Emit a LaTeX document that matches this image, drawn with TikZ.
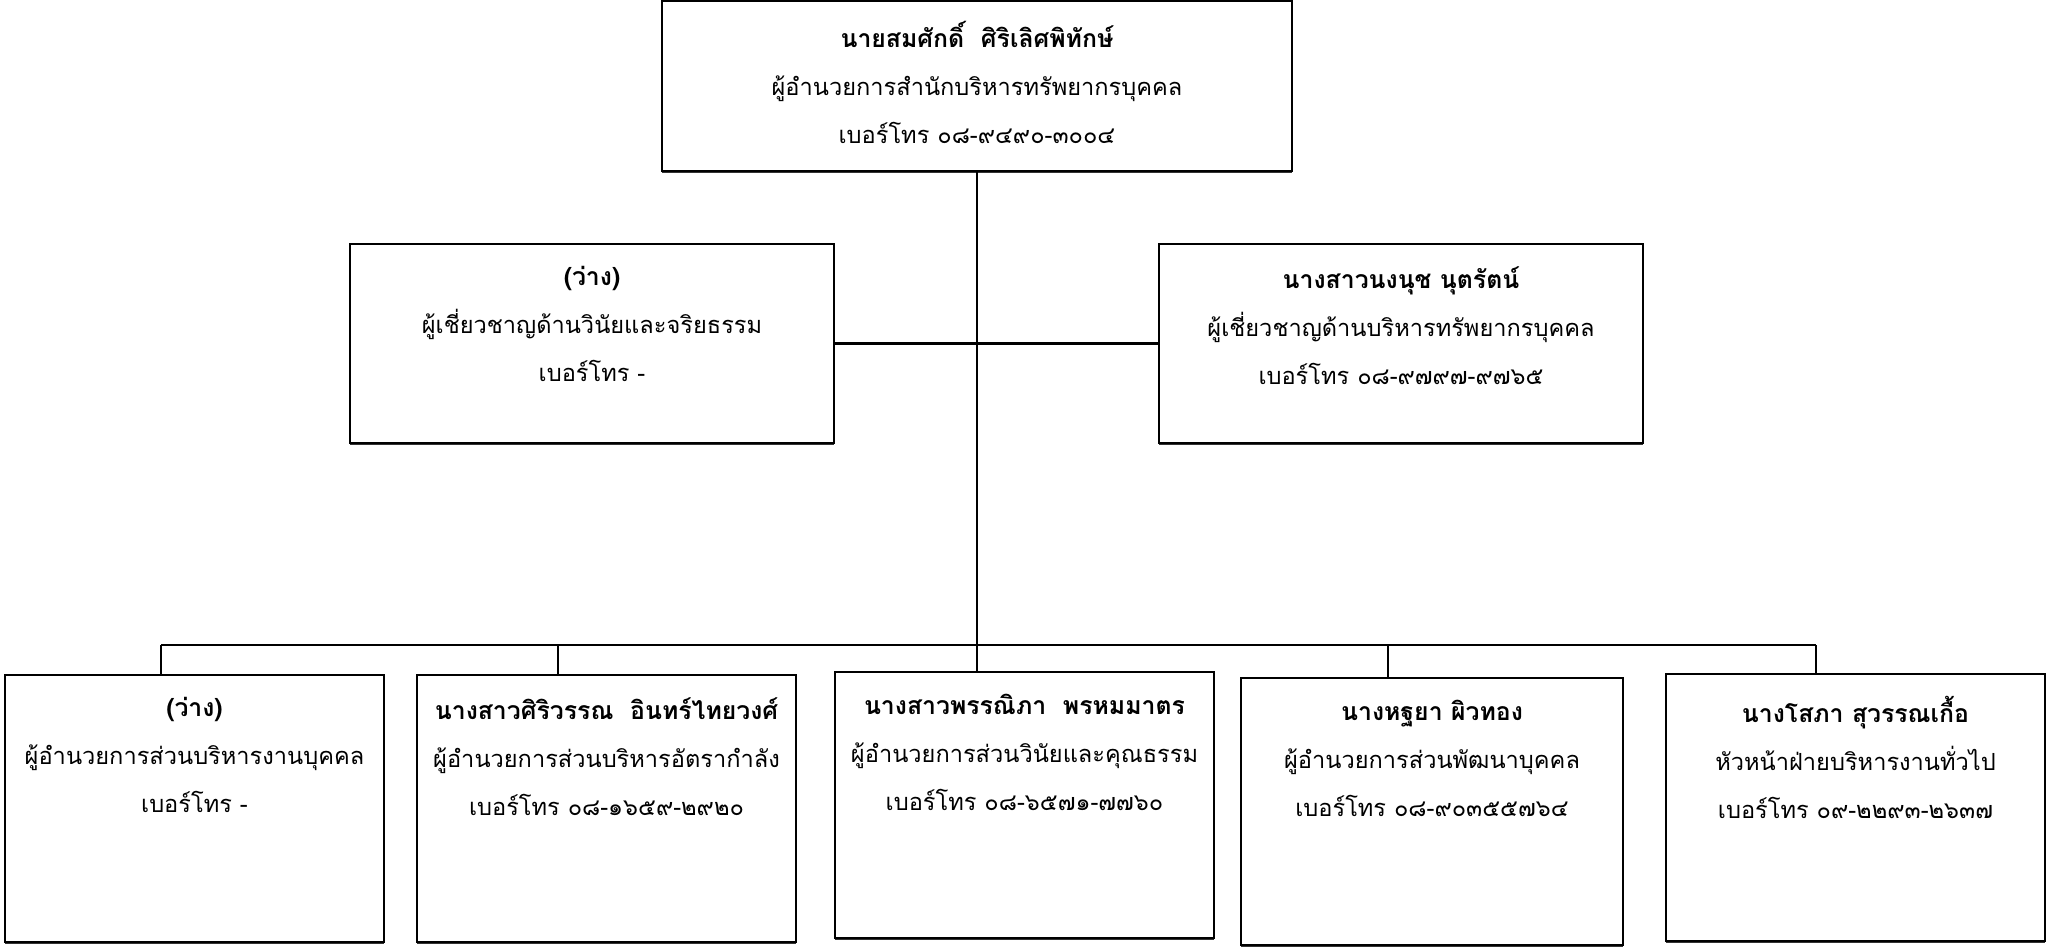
\documentclass[tikz,border=0pt]{standalone}
\usepackage{fontspec}
\newfontfamily\thai[Script=Thai]{Loma}
\newcommand\personname{\bfseries\fontsize{12.4}{24}\selectfont}
\usetikzlibrary{shadows}
\begin{document}
\begin{tikzpicture}[x=0.5pt,y=-0.5pt,
  box/.style={draw=black, line width=1.1pt, fill=white, rectangle, inner sep=0pt,
    drop shadow={shadow xshift=0pt, shadow yshift=-1pt, opacity=1, fill=black!80}},
  info/.style={anchor=north, align=center, inner sep=0pt,
    font=\thai\fontsize{11.8}{24}\selectfont},
  link/.style={line width=1.1pt, draw=black}]
\useasboundingbox (0,0) rectangle (2049,947);

% branch points on the bus line
\coordinate (busL) at (161,645);
\coordinate (busR) at (1816,645);
\coordinate (d2) at (558,645);
\coordinate (d4) at (1388,645);

% boxes
\node[box, minimum width=315pt, minimum height=85pt] (top) at (977,86) {};
\node[box, minimum width=242pt, minimum height=99.5pt] (lm) at (592,343.5) {};
\node[box, minimum width=242pt, minimum height=99.5pt] (rm) at (1401,343.5) {};
\node[box, minimum width=189.5pt, minimum height=133.5pt] (b1) at (194.5,808.5) {};
\node[box, minimum width=189.5pt, minimum height=133.5pt] (b2) at (606.5,808.5) {};
\node[box, minimum width=189.5pt, minimum height=133pt] (b3) at (1024.5,805) {};
\node[box, minimum width=191pt, minimum height=133.5pt] (b4) at (1432,811.5) {};
\node[box, minimum width=189.5pt, minimum height=133.5pt] (b5) at (1855.5,807.5) {};

% reporting lines
\draw[link] (top.south) -- (top.south |- b3.north);
\draw[link] (lm.east) -- (rm.west);
\draw[link] (busL) -- (busR);
\draw[link] (busL) -- (busL |- b1.north);
\draw[link] (d2) -- (d2 |- b2.north);
\draw[link] (d4) -- (d4 |- b4.north);
\draw[link] (busR) -- (busR |- b5.north);

% texts
\node[info] (top-t) at ([yshift=-10.5pt]top.north)
  {{\personname นายสมศักดิ์\ \ ศิริเลิศพิทักษ์}\\ผู้อำนวยการสำนักบริหารทรัพยากรบุคคล\\เบอร์โทร ๐๘-๙๔๙๐-๓๐๐๔};
\node[info] (lm-t) at ([yshift=-11.5pt]lm.north)
  {{\personname (ว่าง)}\\ผู้เชี่ยวชาญด้านวินัยและจริยธรรม\\เบอร์โทร -};
\node[info] (rm-t) at ([yshift=-11.5pt]rm.north)
  {{\personname นางสาวนงนุช นุตรัตน์}\\ผู้เชี่ยวชาญด้านบริหารทรัพยากรบุคคล\\เบอร์โทร ๐๘-๙๗๙๗-๙๗๖๕};
\node[info] (b1-t) at ([yshift=-11.5pt]b1.north)
  {{\personname (ว่าง)}\\ผู้อำนวยการส่วนบริหารงานบุคคล\\เบอร์โทร -};
\node[info] (b2-t) at ([yshift=-11.5pt]b2.north)
  {{\personname นางสาวศิริวรรณ\ \ อินทร์ไทยวงศ์}\\ผู้อำนวยการส่วนบริหารอัตรากำลัง\\เบอร์โทร ๐๘-๑๖๕๙-๒๙๒๐};
\node[info] (b3-t) at ([yshift=-11.5pt]b3.north)
  {{\personname นางสาวพรรณิภา\ \ พรหมมาตร}\\ผู้อำนวยการส่วนวินัยและคุณธรรม\\เบอร์โทร ๐๘-๖๕๗๑-๗๗๖๐};
\node[info] (b4-t) at ([yshift=-11.5pt]b4.north)
  {{\personname นางหฐยา ผิวทอง}\\ผู้อำนวยการส่วนพัฒนาบุคคล\\เบอร์โทร ๐๘-๙๐๓๕๕๗๖๔};
\node[info] (b5-t) at ([yshift=-11.5pt]b5.north)
  {{\personname นางโสภา สุวรรณเกื้อ}\\หัวหน้าฝ่ายบริหารงานทั่วไป\\เบอร์โทร ๐๙-๒๒๙๓-๒๖๓๗};
\end{tikzpicture}
\end{document}
